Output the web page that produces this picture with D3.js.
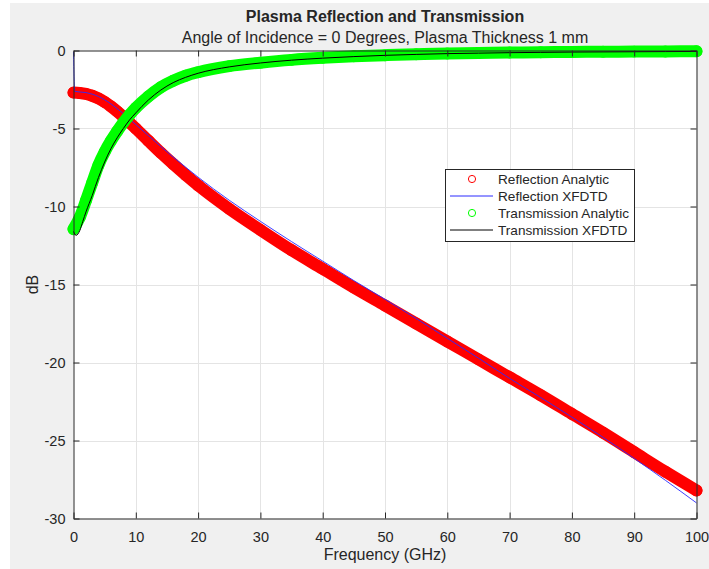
<!DOCTYPE html>
<html>
<head>
<meta charset="utf-8">
<script src="https://cdn.jsdelivr.net/npm/d3@7/dist/d3.min.js"></script>
<style>
  html, body { margin: 0; padding: 0; background: #ffffff; }
  svg { display: block; }
  text { font-family: "Liberation Sans", Arial, Helvetica, sans-serif; fill: #262626; }
</style>
</head>
<body>
<svg id="chart" width="709" height="569"></svg>
<script>
// Reflection, analytic solution (dB)
const reflAnalyticFreq = [0, 1, 2, 3, 4, 5, 6, 7, 8, 9, 10, 12, 14, 16, 18, 20, 25, 30, 35, 40,
                          45, 50, 55, 60, 65, 70, 75, 80, 85, 90, 95, 100];
const reflAnalyticDb = [-2.70, -2.72, -2.78, -2.90, -3.07, -3.30, -3.58, -3.90, -4.25, -4.62, -5.00,
                        -5.78, -6.55, -7.28, -7.98, -8.65, -10.15, -11.5, -12.8, -14.0,
                        -15.2, -16.35, -17.5, -18.65, -19.8, -20.95, -22.1, -23.3, -24.5, -25.75, -27.0, -28.2];

// Reflection, XFDTD simulation (dB)
const reflFdtdFreq = [0, 0.2, 2, 4, 6, 8, 10, 12, 14, 16, 18, 20, 25, 30, 35, 40, 45, 50, 55, 60,
                      65, 70, 75, 80, 85, 90, 95, 100];
const reflFdtdDb = [-0.1, -2.62, -2.70, -2.95, -3.42, -4.05, -4.75, -5.45, -6.15, -6.83, -7.48, -8.12,
                    -9.6, -10.95, -12.25, -13.5, -14.75, -15.95, -17.18, -18.45,
                    -19.72, -21.02, -22.25, -23.5, -24.8, -26.15, -27.55, -29.0];

// Transmission, analytic solution (dB)
const transAnalyticFreq = [0, 1, 2, 3, 4, 5, 6, 7, 8, 9, 10, 12, 14, 16, 18, 20, 25, 30, 35, 40,
                           45, 50, 55, 60, 65, 70, 75, 80, 85, 90, 95, 100];
const transAnalyticDb = [-11.45, -10.7, -9.62, -8.48, -7.35, -6.5, -5.8, -5.18, -4.62, -4.12, -3.68,
                         -2.95, -2.36, -1.94, -1.62, -1.39, -1.00, -0.78, -0.60, -0.47,
                         -0.37, -0.30, -0.24, -0.19, -0.16, -0.13, -0.11, -0.09, -0.08, -0.07, -0.06, -0.05];

// Transmission, XFDTD simulation (dB)
const transFdtdFreq = [0, 0.4, 1, 1.5, 2, 3, 4, 5, 6, 7, 8, 9, 10, 12, 14, 16, 18, 20, 25, 30, 35, 40,
                       45, 50, 55, 60, 65, 70, 75, 80, 85, 90, 95, 100];
const transFdtdDb = [-11.6, -11.85, -11.55, -10.95, -10.35, -9.3, -8.15, -7.15, -6.3, -5.6, -5.0, -4.45, -4.0,
                     -3.18, -2.54, -2.06, -1.72, -1.46, -1.05, -0.80, -0.62, -0.49,
                     -0.39, -0.31, -0.25, -0.20, -0.17, -0.14, -0.12, -0.10, -0.09, -0.08, -0.07, -0.06];

const xTickValues = [0, 10, 20, 30, 40, 50, 60, 70, 80, 90, 100];
const yTickValues = [0, -5, -10, -15, -20, -25, -30];

const legendLabels = ["Reflection Analytic", "Reflection XFDTD", "Transmission Analytic", "Transmission XFDTD"];

const titleText = "Plasma Reflection and Transmission";
const subtitleText = "Angle of Incidence = 0 Degrees, Plasma Thickness 1 mm";
const xLabelText = "Frequency (GHz)";
const yLabelText = "dB";

// ---- layout ----
const svg = d3.select("#chart");
const W = 709, H = 569;
const plot = { left: 73.5, right: 696.5, top: 50.5, bottom: 518.5 };

const x = d3.scaleLinear().domain([0, 100]).range([plot.left, plot.right]);
const y = d3.scaleLinear().domain([-30, 0]).range([plot.bottom, plot.top]);

// figure background
svg.append("rect").attr("x", 10).attr("y", 3).attr("width", W - 10).attr("height", H - 3)
  .attr("fill", "#f0f0f0");

// axes background
svg.append("rect")
  .attr("x", plot.left).attr("y", plot.top)
  .attr("width", plot.right - plot.left).attr("height", plot.bottom - plot.top)
  .attr("fill", "#ffffff");

// grid
const grid = svg.append("g").attr("stroke", "#e4e4e4").attr("stroke-width", 1);
grid.selectAll("line.gx").data(xTickValues.slice(1, -1)).join("line")
  .attr("x1", d => Math.round(x(d)) + 0.5).attr("x2", d => Math.round(x(d)) + 0.5)
  .attr("y1", plot.top).attr("y2", plot.bottom);
grid.selectAll("line.gy").data(yTickValues.slice(1, -1)).join("line")
  .attr("y1", d => Math.round(y(d)) + 0.5).attr("y2", d => Math.round(y(d)) + 0.5)
  .attr("x1", plot.left).attr("x2", plot.right);

// ---- series ----
const toPts = (fs, vs) => fs.map((f, i) => [f, vs[i]]);
const line = d3.line().x(d => x(d[0])).y(d => y(d[1])).curve(d3.curveMonotoneX);

const reflA = toPts(reflAnalyticFreq, reflAnalyticDb);
const reflF = toPts(reflFdtdFreq, reflFdtdDb);
const transA = toPts(transAnalyticFreq, transAnalyticDb);
const transF = toPts(transFdtdFreq, transFdtdDb);

const series = svg.append("g");

function markerBand(pts, color) {
  // dense open-circle markers merge into a solid band
  series.append("path").datum(pts).attr("d", line)
    .attr("fill", "none").attr("stroke", color).attr("stroke-width", 12)
    .attr("stroke-linecap", "round").attr("stroke-linejoin", "round");
  series.append("g").selectAll("circle").data(pts).join("circle")
    .attr("cx", d => x(d[0])).attr("cy", d => y(d[1])).attr("r", 5.2)
    .attr("fill", "none").attr("stroke", color).attr("stroke-width", 1.5);
}

markerBand(reflA, "#ff0000");
series.append("path").datum(reflF).attr("d", line)
  .attr("fill", "none").attr("stroke", "#2a2aff").attr("stroke-width", 0.9);
markerBand(transA, "#00ff00");
series.append("path").datum(transF).attr("d", line)
  .attr("fill", "none").attr("stroke", "#000000").attr("stroke-width", 1);

// ---- axes ----
const axisColor = "#262626";
const fmt = d => String(d);
const gx = svg.append("g").attr("transform", `translate(0,${plot.bottom})`)
  .call(d3.axisBottom(x).tickValues(xTickValues).tickFormat(fmt).tickSizeInner(-6).tickSizeOuter(0).tickPadding(13));
const gy = svg.append("g").attr("transform", `translate(${plot.left},0)`)
  .call(d3.axisLeft(y).tickValues(yTickValues).tickFormat(fmt).tickSizeInner(-6).tickSizeOuter(0).tickPadding(8));
const gxt = svg.append("g").attr("transform", `translate(0,${plot.top})`)
  .call(d3.axisTop(x).tickValues(xTickValues).tickSizeInner(-6).tickSizeOuter(0).tickFormat(""));
const gyr = svg.append("g").attr("transform", `translate(${plot.right},0)`)
  .call(d3.axisRight(y).tickValues(yTickValues).tickSizeInner(-6).tickSizeOuter(0).tickFormat(""));

[gx, gy, gxt, gyr].forEach(g => {
  g.select(".domain").attr("stroke", axisColor).attr("stroke-width", 1);
  g.selectAll(".tick line").attr("stroke", axisColor).attr("stroke-width", 1);
  g.selectAll(".tick text").attr("font-size", "14.5px").attr("fill", "#262626")
    .attr("font-family", "'Liberation Sans', Arial, sans-serif");
  g.attr("font-family", null).attr("font-size", null);
});

// ---- titles and labels ----
const cx = (plot.left + plot.right) / 2;
svg.append("text").attr("x", cx).attr("y", 22).attr("text-anchor", "middle")
  .attr("font-size", "16px").attr("font-weight", "bold").attr("fill", "#000").text(titleText);
svg.append("text").attr("x", cx).attr("y", 43).attr("text-anchor", "middle")
  .attr("font-size", "16px").attr("fill", "#000").text(subtitleText);
svg.append("text").attr("x", cx).attr("y", 560).attr("text-anchor", "middle")
  .attr("font-size", "16px").text(xLabelText);
svg.append("text").attr("transform", `translate(38,${(plot.top + plot.bottom) / 2}) rotate(-90)`)
  .attr("text-anchor", "middle").attr("font-size", "16px").text(yLabelText);

// ---- legend ----
const legend = svg.append("g");
legend.append("rect").attr("x", 445.5).attr("y", 169.5).attr("width", 189).attr("height", 72)
  .attr("fill", "#ffffff").attr("stroke", "#262626").attr("stroke-width", 1);
const legendStyles = [
  { kind: "marker", color: "#ff0000" },
  { kind: "line", color: "#2a2aff" },
  { kind: "marker", color: "#00ff00" },
  { kind: "line", color: "#000000" }
];
const rowY = d3.scaleLinear().domain([0, 3]).range([179, 230]);
legendLabels.forEach((lab, i) => {
  const yy = rowY(i);
  const st = legendStyles[i];
  if (st.kind === "marker") {
    legend.append("circle").attr("cx", 472).attr("cy", yy).attr("r", 3.6)
      .attr("fill", "none").attr("stroke", st.color).attr("stroke-width", 1);
  } else {
    legend.append("line").attr("x1", 450).attr("x2", 493).attr("y1", yy).attr("y2", yy)
      .attr("stroke", st.color).attr("stroke-width", 1);
  }
  legend.append("text").attr("x", 498).attr("y", yy + 4.7).attr("font-size", "13.6px")
    .attr("fill", "#000").text(lab);
});
</script>
</body>
</html>
